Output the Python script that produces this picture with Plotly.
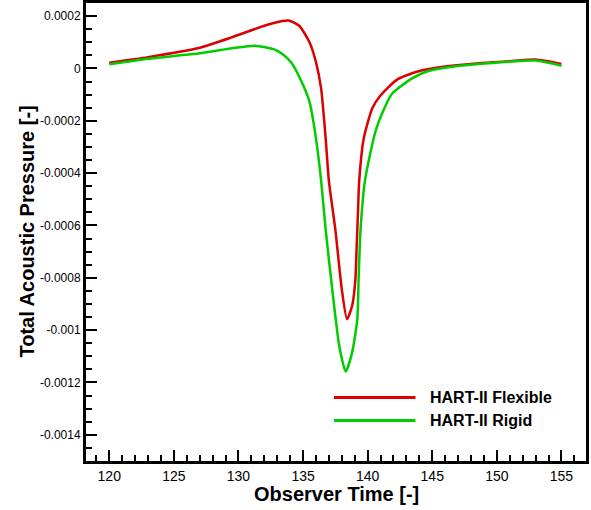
import plotly.graph_objects as go

# ---- data ----
series_names = ["HART-II Flexible", "HART-II Rigid"]

flex_t = [120.0, 123.0, 127.0, 129.5, 132.0, 133.4, 133.9, 134.7, 135.5, 136.0, 136.4,
          136.75, 137.0, 137.5, 138.0, 138.4, 138.8, 139.05, 139.15, 139.25, 139.35,
          139.7, 140.35, 140.9, 142.3, 144.0, 146.0, 148.6, 151.2, 153.0, 155.0]
flex_p = [2.2e-5, 4.3e-5, 7.9e-5, 1.19e-4, 1.63e-4, 1.81e-4, 1.83e-4, 1.63e-4, 1.0e-4,
          2.4e-5, -7.7e-5, -2.67e-4, -4.3e-4, -6.16e-4, -8.44e-4, -9.58e-4, -9.07e-4,
          -8.06e-4, -6.8e-4, -5.5e-4, -4.26e-4, -2.67e-4, -1.53e-4, -1.09e-4, -4.2e-5,
          -1.0e-5, 7.0e-6, 2.0e-5, 2.8e-5, 3.4e-5, 1.7e-5]

rigid_t = [120.0, 123.0, 127.0, 129.5, 131.3, 132.8, 133.4, 134.1, 134.9, 135.5, 136.0,
           136.4, 136.75, 137.26, 137.8, 138.3, 138.8, 139.2, 139.3, 139.45, 139.8,
           140.6, 141.4, 141.9, 143.4, 144.7, 147.3, 149.9, 153.0, 155.0]
rigid_p = [1.6e-5, 3.7e-5, 5.8e-5, 7.7e-5, 8.7e-5, 7.2e-5, 5.5e-5, 2.2e-5, -5.2e-5,
           -1.28e-4, -2.67e-4, -4.3e-4, -6.16e-4, -8.44e-4, -1.06e-3, -1.158e-3,
           -1.085e-3, -9.58e-4, -8.06e-4, -6.16e-4, -4.26e-4, -2.42e-4, -1.41e-4,
           -9.6e-5, -3.9e-5, -1.0e-5, 1.1e-5, 2.2e-5, 3.0e-5, 1.0e-5]

x_tickvals = [120, 125, 130, 135, 140, 145, 150, 155]
x_ticktext = ["120", "125", "130", "135", "140", "145", "150", "155"]
y_tickvals = [0.0002, 0, -0.0002, -0.0004, -0.0006, -0.0008, -0.001, -0.0012, -0.0014]
y_ticktext = ["0.0002", "0", "-0.0002", "-0.0004", "-0.0006", "-0.0008", "-0.001",
              "-0.0012", "-0.0014"]
x_title = "Observer Time [-]"
y_title = "Total Acoustic Pressure [-]"

colors = ["rgb(220,0,0)", "rgb(0,205,0)"]
FONT = "Liberation Sans"

fig = go.Figure()
fig.add_trace(go.Scatter(x=flex_t, y=flex_p, mode="lines", name=series_names[0],
                         line=dict(color=colors[0], width=2.5, shape="spline",
                                   smoothing=0.6), showlegend=False))
fig.add_trace(go.Scatter(x=rigid_t, y=rigid_p, mode="lines", name=series_names[1],
                         line=dict(color=colors[1], width=2.5, shape="spline",
                                   smoothing=0.6), showlegend=False))

# manual legend (long line samples like the reference)
leg_y = [0.1386, 0.0885]
for name, col, yy in zip(series_names, colors, leg_y):
    fig.add_shape(type="line", xref="paper", yref="paper", x0=0.496, x1=0.659,
                  y0=yy, y1=yy, line=dict(color=col, width=3))
    fig.add_annotation(xref="paper", yref="paper", x=0.683, y=yy, text=name,
                       showarrow=False, xanchor="left", yanchor="middle",
                       font=dict(family=FONT, size=16, color="black", weight="bold"))

# axis titles
fig.add_annotation(xref="paper", yref="paper", x=0.5, y=-0.071, text=x_title,
                   showarrow=False, xanchor="center", yanchor="middle",
                   font=dict(family=FONT, size=20, color="black", weight="bold"))
fig.add_annotation(xref="paper", yref="paper", x=-0.119, y=0.5, text=y_title,
                   showarrow=False, xanchor="center", yanchor="middle", textangle=-90,
                   font=dict(family=FONT, size=20, color="black", weight="bold"))

axis_common = dict(showline=True, linecolor="black", linewidth=3, mirror=True,
                   ticks="inside", tickcolor="black", tickwidth=2, ticklen=11,
                   showgrid=False, zeroline=False, automargin=False)

fig.update_xaxes(range=[118.2, 156.9], tickvals=x_tickvals, ticktext=x_ticktext,
                 minor=dict(ticks="inside", dtick=1, tick0=120, ticklen=6, tickwidth=1.5,
                            tickcolor="black", showgrid=False),
                 tickfont=dict(family=FONT, size=14, color="black"),
                 **axis_common)
fig.update_yaxes(range=[-0.0015, 0.00025], tickvals=y_tickvals, ticktext=y_ticktext,
                 minor=dict(ticks="inside", dtick=0.00005, tick0=0, ticklen=6,
                            tickwidth=1.5, tickcolor="black", showgrid=False),
                 tickfont=dict(family=FONT, size=12, color="black"),
                 **axis_common)

fig.update_layout(width=591, height=510, margin=dict(l=86, r=5, t=3, b=49),
                  plot_bgcolor="white", paper_bgcolor="white")

fig.write_html("out.html", config={"displayModeBar": False},
               post_script="document.body.style.margin='0';document.body.style.padding='0';")
